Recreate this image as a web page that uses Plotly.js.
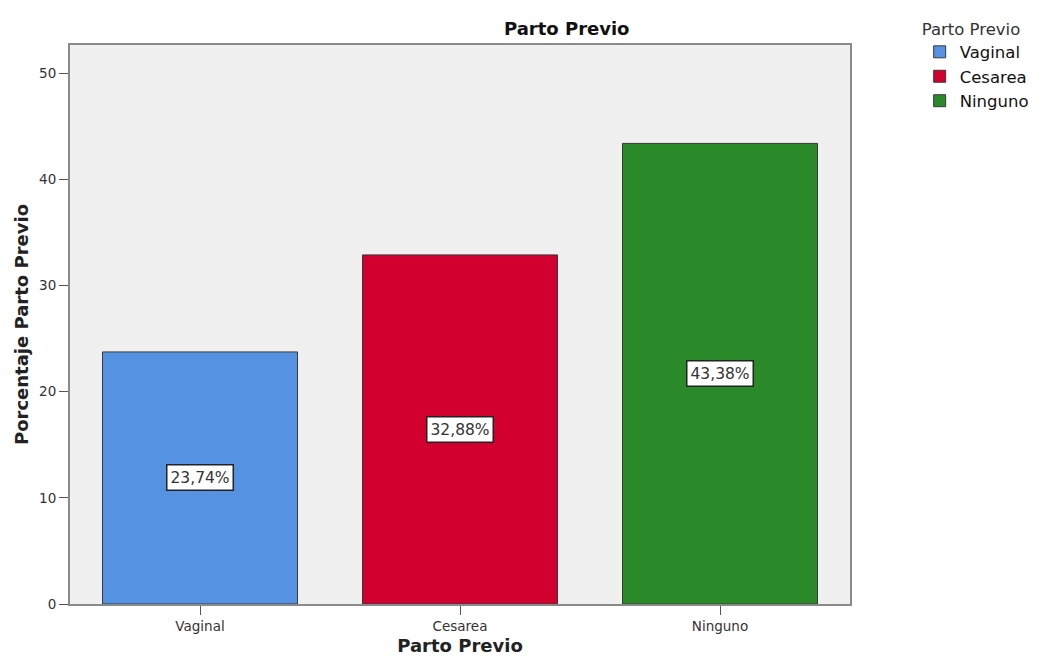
<!DOCTYPE html>
<html>
<head>
<meta charset="utf-8">
<script src="https://cdn.plot.ly/plotly-3.0.1.min.js"></script>
<style>
  html, body { margin: 0; padding: 0; background: #ffffff; }
  #chart { width: 1038px; height: 657px; }
</style>
</head>
<body>
<div id="chart"></div>
<script>
// Porcentaje de pacientes según parto previo
const categories = ["Vaginal", "Cesarea", "Ninguno"];
const percentages = [23.74, 32.88, 43.38];
const barColors = ["#5592e2", "#d2002e", "#2a8a2a"];
const yTicks = [0, 10, 20, 30, 40, 50];

const fontFamily = "'DejaVu Sans', 'Noto Sans', sans-serif";

const traces = categories.map((c, i) => ({
  type: "bar",
  name: c,
  x: [c],
  y: [percentages[i]],
  width: 0.75,
  marker: { color: barColors[i], line: { color: "#3a3a3a", width: 1 } },
  hoverinfo: "skip"
}));

// Value labels in the middle of each bar
const labels = categories.map((c, i) => ({
  x: c,
  y: percentages[i] / 2,
  xref: "x",
  yref: "y",
  text: percentages[i].toFixed(2).replace(".", ",") + "%",
  showarrow: false,
  bgcolor: "#ffffff",
  bordercolor: "#222222",
  borderwidth: 1.5,
  borderpad: 3,
  font: { family: fontFamily, size: 15.5, color: "#333333" }
}));

const layout = {
  width: 1038,
  height: 657,
  margin: { l: 70, r: 188, t: 45, b: 53 },
  paper_bgcolor: "#ffffff",
  plot_bgcolor: "#f0f0f0",
  font: { family: fontFamily, color: "#222222" },
  title: {
    text: "<b>Parto Previo</b>",
    font: { family: fontFamily, size: 18, color: "#111111" },
    xref: "container",
    x: 0.546,
    xanchor: "center",
    yref: "container",
    y: 0.956,
    yanchor: "middle"
  },
  bargap: 0.25,
  showlegend: true,
  legend: {
    title: { text: "Parto Previo", font: { family: fontFamily, size: 16.5, color: "#333333" } },
    font: { family: fontFamily, size: 16.5, color: "#111111" },
    xref: "container",
    yref: "container",
    x: 0.886,
    y: 0.98,
    xanchor: "left",
    yanchor: "top",
    bgcolor: "rgba(0,0,0,0)",
    tracegroupgap: 0,
    itemwidth: 30,
    traceorder: "normal"
  },
  xaxis: {
    type: "category",
    categoryorder: "array",
    categoryarray: categories,
    range: [-0.5, 2.5],
    showline: true,
    linecolor: "#8a8a8a",
    linewidth: 2,
    mirror: true,
    ticks: "outside",
    ticklen: 9,
    tickcolor: "#555555",
    tickfont: { family: fontFamily, size: 13.5, color: "#333333" },
    showgrid: false,
    zeroline: false,
    title: {
      text: "<b>Parto Previo</b>",
      font: { family: fontFamily, size: 18, color: "#222222" },
      standoff: 6
    }
  },
  yaxis: {
    range: [0, 52.65],
    tickvals: yTicks,
    ticktext: yTicks.map(String),
    showline: true,
    linecolor: "#8a8a8a",
    linewidth: 2,
    mirror: true,
    ticks: "outside",
    ticklen: 9,
    tickcolor: "#555555",
    tickfont: { family: fontFamily, size: 13.5, color: "#333333" },
    showgrid: false,
    zeroline: false,
    title: {
      text: "<b>Porcentaje Parto Previo</b>",
      font: { family: fontFamily, size: 18, color: "#222222" },
      standoff: 6
    }
  },
  annotations: labels
};

Plotly.newPlot("chart", traces, layout, { displayModeBar: false, staticPlot: true });
</script>
</body>
</html>
